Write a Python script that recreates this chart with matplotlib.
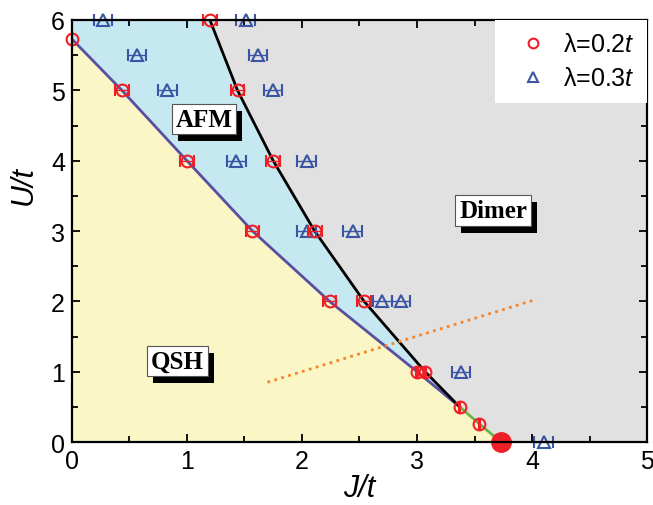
import matplotlib
matplotlib.use('Agg')
import matplotlib.pyplot as plt
from matplotlib.lines import Line2D
from matplotlib.patches import Rectangle

plt.rcParams['font.family'] = ['Liberation Sans', 'DejaVu Sans']
plt.rcParams['mathtext.fontset'] = 'custom'
plt.rcParams['mathtext.rm'] = 'Liberation Sans'
plt.rcParams['mathtext.it'] = 'Liberation Sans:italic'

# lambda = 0.2t transition points (J/t, U/t, error in J)
red_J = [0.0, 1.20, 0.435, 1.44, 1.00, 1.75, 1.57, 2.11, 2.24, 2.54, 3.00, 3.07, 3.37, 3.54]
red_U = [5.73, 6.0, 5.0, 5.0, 4.0, 4.0, 3.0, 3.0, 2.0, 2.0, 1.0, 1.0, 0.5, 0.26]
red_err = [0.0, 0.06, 0.06, 0.06, 0.06, 0.06, 0.06, 0.06, 0.06, 0.06, 0.005, 0.005, 0.005, 0.005]

# lambda = 0.3t transition points
blue_J = [0.27, 1.51, 0.565, 1.62, 0.83, 1.75, 1.43, 2.04, 2.04, 2.44, 2.70, 2.86, 3.38, 4.10]
blue_U = [6.0, 6.0, 5.5, 5.5, 5.0, 5.0, 4.0, 4.0, 3.0, 3.0, 2.0, 2.0, 1.0, 0.0]
blue_err = [0.08] * 14

# phase boundaries
qsh_afm_J = [0.0, 0.435, 1.00, 1.57, 2.24, 3.00, 3.37]
qsh_afm_U = [5.73, 5.0, 4.0, 3.0, 2.0, 1.0, 0.5]
afm_dimer_J = [1.20, 1.44, 1.75, 2.11, 2.54, 3.07, 3.37]
afm_dimer_U = [6.0, 5.0, 4.0, 3.0, 2.0, 1.0, 0.5]
qsh_dimer_J = [3.37, 3.54, 3.73]
qsh_dimer_U = [0.5, 0.26, 0.0]
crit_J, crit_U = 3.73, 0.0

dot_J = [1.70, 4.04]
dot_U = [0.85, 2.03]

red = '#ee1f26'
blue = '#3a55a4'

fig = plt.figure(figsize=(6.53, 5.06), dpi=100)
ax = fig.add_axes([0.110, 0.1245, 0.881, 0.834])
ax.set_facecolor('#e1e1e1')

# QSH region
yj = [0.0] + qsh_afm_J + qsh_dimer_J[1:]
yu = [0.0] + qsh_afm_U + qsh_dimer_U[1:]
ax.fill(yj, yu, color='#faf6c6', lw=0, zorder=1)
# AFM region
bj = [0.0, 0.0] + afm_dimer_J + qsh_afm_J[::-1]
bu = [5.73, 6.0] + afm_dimer_U + qsh_afm_U[::-1]
ax.fill(bj, bu, color='#c6e8f1', lw=0, zorder=1)

ax.plot(qsh_afm_J, qsh_afm_U, color='#5a4ea0', lw=2.0, zorder=3)
ax.plot(afm_dimer_J, afm_dimer_U, color='black', lw=2.0, zorder=3)
ax.plot(qsh_dimer_J, qsh_dimer_U, color='#6ab546', lw=2.0, zorder=3)
ax.plot(dot_J, dot_U, color='#f5842a', lw=2.0, ls=(0, (1, 1.6)), zorder=3)

ax.errorbar(blue_J, blue_U, xerr=blue_err, fmt='^', ms=9, mfc='none', mec=blue,
            mew=1.5, ecolor=blue, elinewidth=1.0, capsize=4.5, capthick=1.0,
            zorder=5, clip_on=False)
ax.errorbar(red_J, red_U, xerr=red_err, fmt='o', ms=8.5, mfc='none', mec=red,
            mew=1.5, ecolor=red, elinewidth=1.0, capsize=4.5, capthick=1.0,
            zorder=6, clip_on=False)
ax.plot(crit_J, crit_U, 'o', color=red, ms=14, zorder=7, clip_on=False)

ax.set_xlim(0, 5)
ax.set_ylim(0, 6)

# phase names in white boxes, with a black drop shadow added after layout
labels = []
for x, y, s in [(1.15, 4.59, 'AFM'), (3.66, 3.29, 'Dimer'), (0.92, 1.15, 'QSH')]:
    t = ax.text(x, y, s, ha='center', va='center', fontsize=18,
                family='Liberation Serif', weight='bold', color='black', zorder=9,
                bbox=dict(boxstyle='square,pad=0.15', fc='white', ec='#555555', lw=0.8))
    labels.append(t)

ax.set_xticks([0, 1, 2, 3, 4, 5])
ax.set_yticks([0, 1, 2, 3, 4, 5, 6])
ax.set_xticks([0.5, 1.5, 2.5, 3.5, 4.5], minor=True)
ax.set_yticks([0.5, 1.5, 2.5, 3.5, 4.5, 5.5], minor=True)
ax.tick_params(which='both', direction='in', top=True, right=True, width=1.3)
ax.tick_params(which='major', length=6, labelsize=18, pad=5)
ax.tick_params(which='minor', length=4)
for sp in ax.spines.values():
    sp.set_linewidth(1.6)
    sp.set_zorder(10)

ax.set_xlabel('J/t', fontsize=22, style='italic', labelpad=0)
ax.set_ylabel('U/t', fontsize=22, style='italic')
ax.yaxis.set_label_coords(-0.058, 0.61)

handles = [
    Line2D([], [], marker='o', ls='none', mfc='none', mec=red, mew=1.5, ms=7),
    Line2D([], [], marker='^', ls='none', mfc='none', mec=blue, mew=1.5, ms=7.5),
]
leg = ax.legend(handles, ['λ=0.2$t$', 'λ=0.3$t$'], loc='upper right',
                bbox_to_anchor=(1, 1), borderaxespad=0, fontsize=18,
                fancybox=False, framealpha=1, edgecolor='none',
                handlelength=2.0, handletextpad=0.2, borderpad=0.5,
                labelspacing=0.4)
leg.set_zorder(11)

fig.canvas.draw()
inv = ax.transData.inverted()
for t in labels:
    bb = t.get_bbox_patch().get_window_extent()
    (x0, y0), (x1, y1) = inv.transform([(bb.x0 + 6, bb.y0 - 7), (bb.x1 + 6, bb.y1 - 7)])
    ax.add_patch(Rectangle((x0, y0), x1 - x0, y1 - y0, fc='black', ec='none', zorder=8))

fig.savefig('out.png', dpi=100)
